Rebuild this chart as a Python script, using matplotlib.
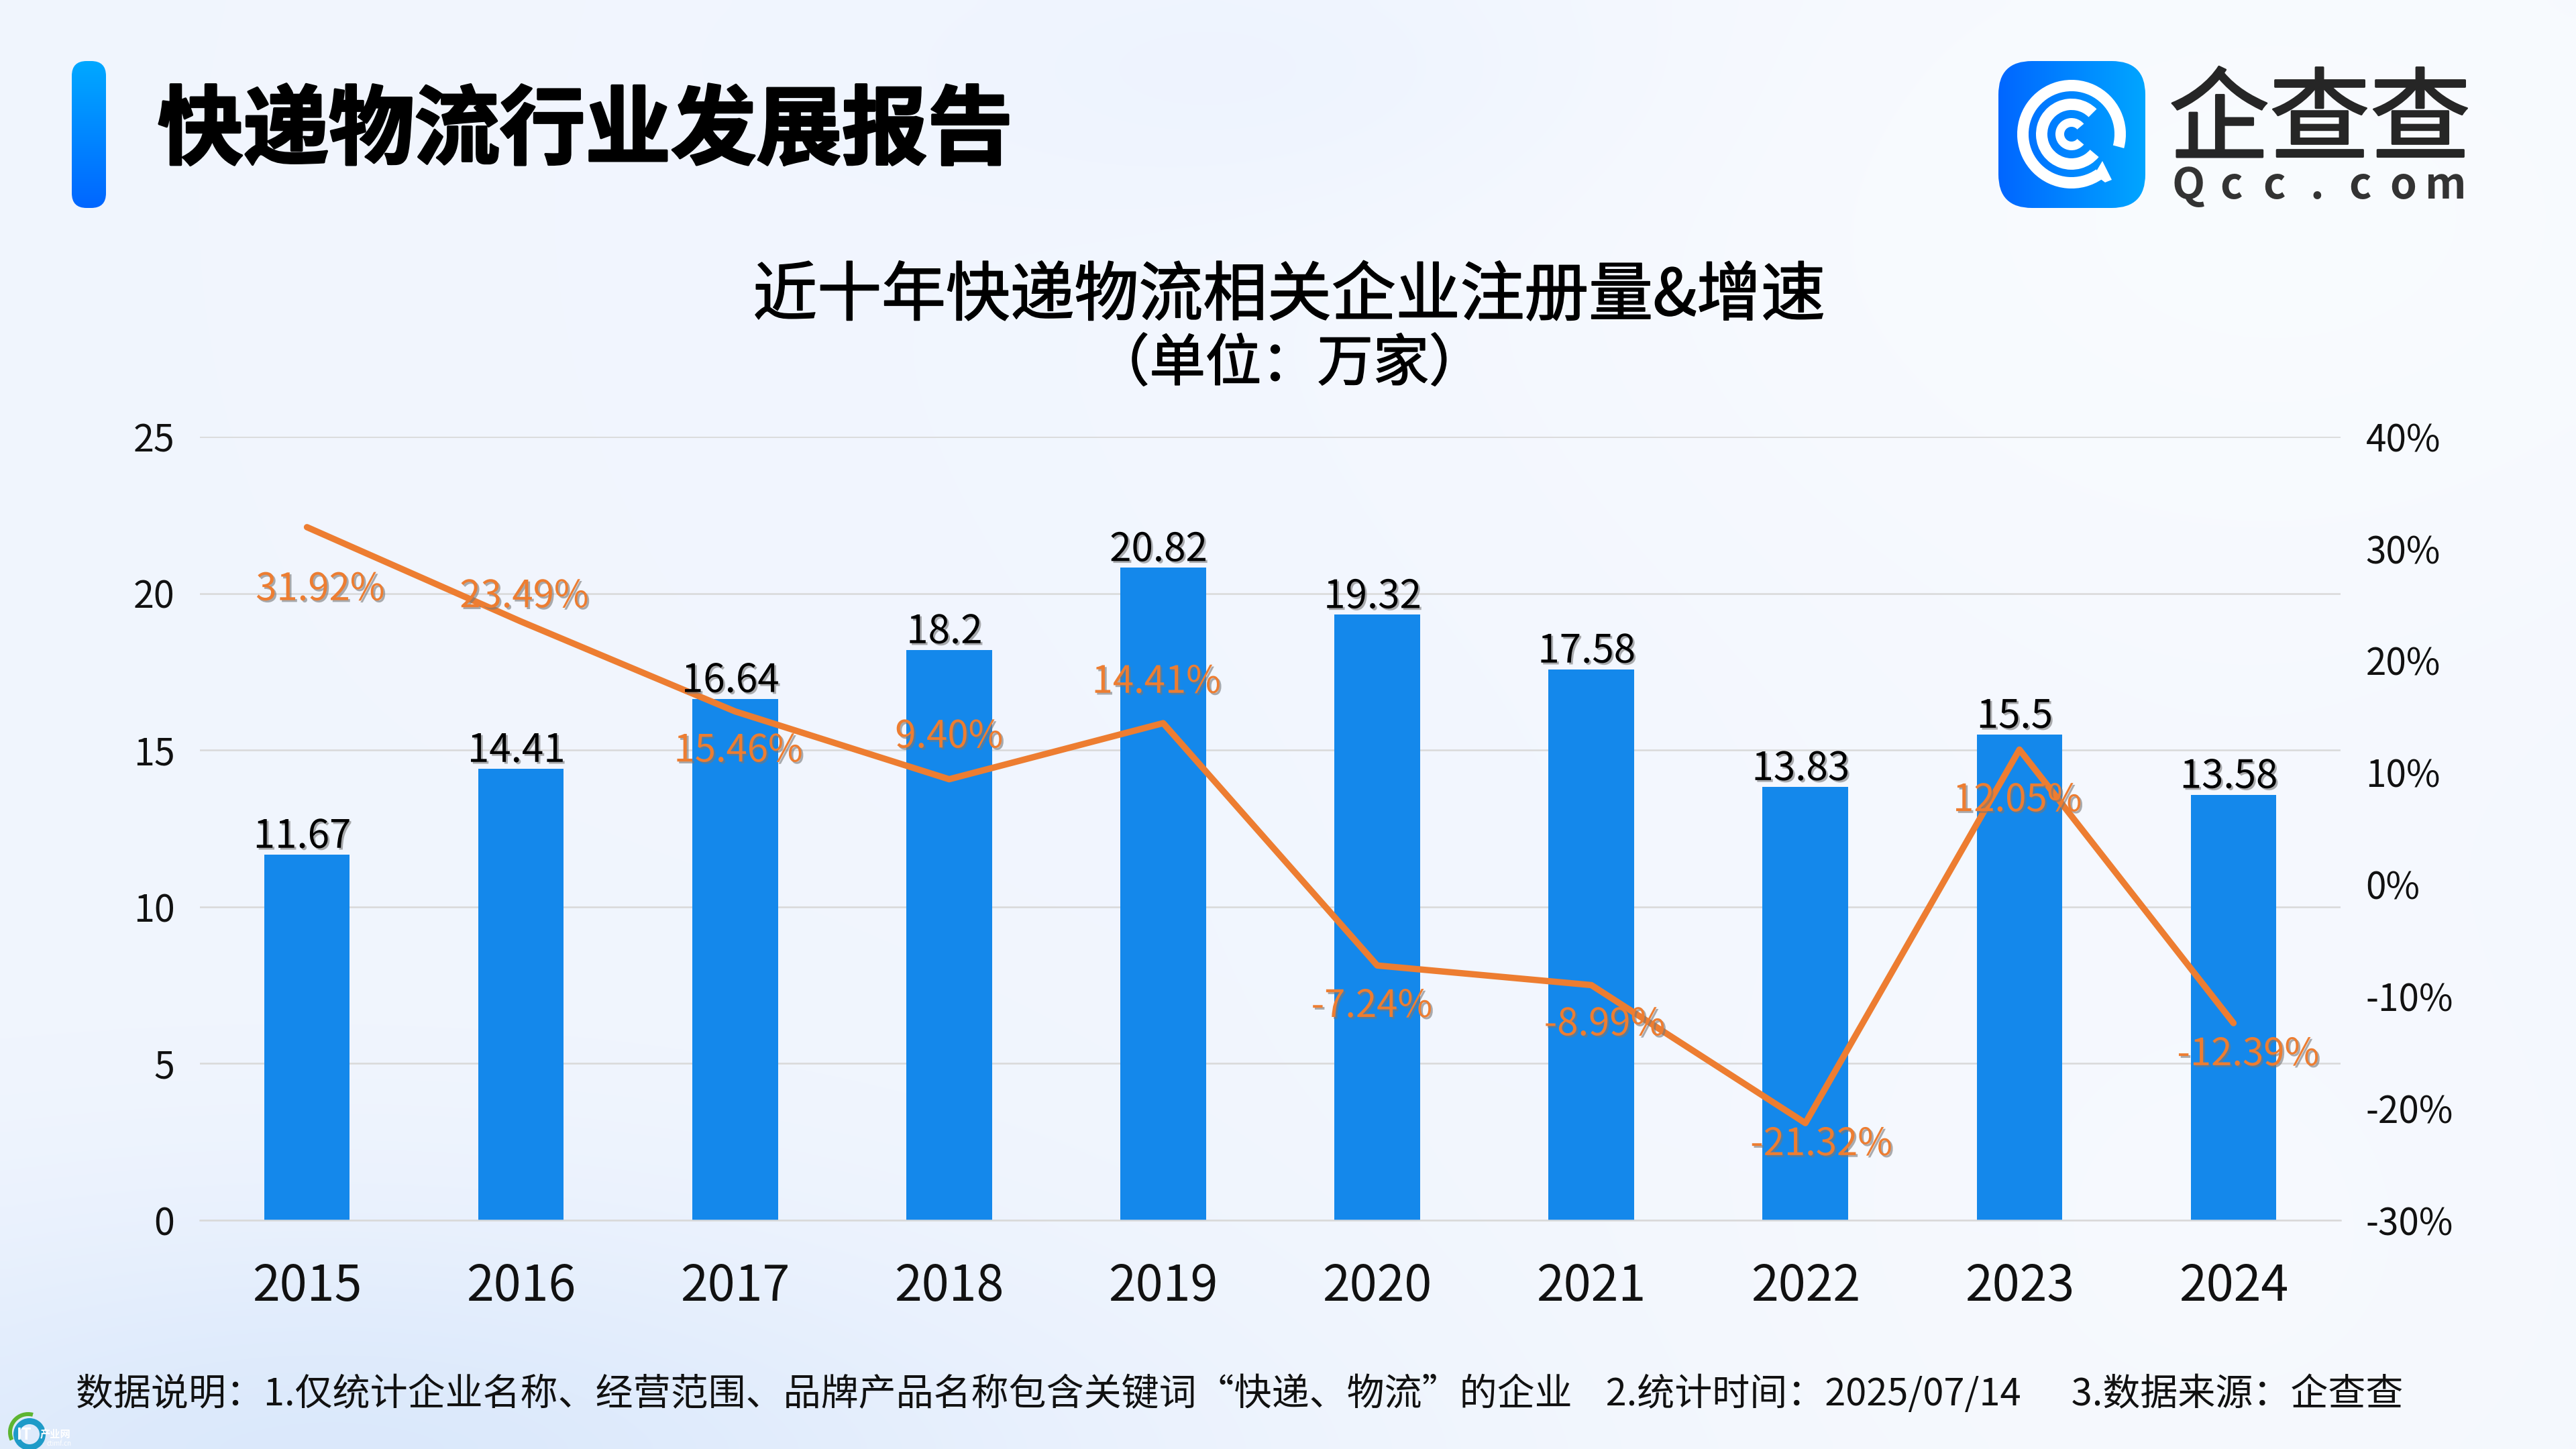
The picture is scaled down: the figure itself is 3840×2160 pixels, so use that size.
import matplotlib
matplotlib.use("Agg")
import matplotlib.pyplot as plt
import matplotlib.patheffects as pe
from matplotlib.patches import FancyBboxPatch, Wedge, Polygon
import numpy as np

plt.rcParams['font.family'] = ['Noto Sans CJK SC', 'DejaVu Sans']

W, H = 3840, 2160

# Data
years = ['2015', '2016', '2017', '2018', '2019', '2020', '2021', '2022', '2023', '2024']
registrations = [11.67, 14.41, 16.64, 18.2, 20.82, 19.32, 17.58, 13.83, 15.5, 13.58]
growth = [31.92, 23.49, 15.46, 9.40, 14.41, -7.24, -8.99, -21.32, 12.05, -12.39]
left_ticks = [0, 5, 10, 15, 20, 25]
right_ticks = [-30, -20, -10, 0, 10, 20, 30, 40]

main_title = '快递物流行业发展报告'
chart_title = '近十年快递物流相关企业注册量&增速'
chart_unit = '（单位：万家）'
footnote = '数据说明：1.仅统计企业名称、经营范围、品牌产品名称包含关键词“快递、物流”的企业    2.统计时间：2025/07/14      3.数据来源：企查查'

# Hand placed label offsets in the reference, pixels
growth_dx = [20, 5, 5, 0, -10, -8, 20, 24, -3, 22]
growth_dy = [-93, 37, -59, 63, 61, -61, -59, -32, -76, -47]

BLUE = '#1488EB'
ORANGE = '#ED7D31'
GRID = '#D9D9D9'

fig = plt.figure(figsize=(W / 100, H / 100), dpi=100)

# Background, soft blobs on a pale blue base
bg = fig.add_axes([0, 0, 1, 1], zorder=0)
bg.set_xlim(0, W)
bg.set_ylim(0, H)
bg.axis('off')

xx, yy = np.meshgrid(np.linspace(0, W, 240), np.linspace(0, H, 135))


def blob(cx, cy, sx, sy):
    return np.exp(-((xx - cx) / sx) ** 2 - ((yy - cy) / sy) ** 2)[..., None]


img = np.ones(xx.shape + (3,)) * np.array([0.945, 0.963, 0.996])
img = img + blob(3400, 300, 1300, 800) * np.array([0.03, 0.022, 0.004])
img = img + blob(3300, 1900, 1000, 800) * np.array([0.02, 0.014, 0.0])
img = img - blob(450, 2200, 1000, 380) * np.array([0.085, 0.05, 0.01])
img = img - blob(1900, 100, 500, 200) * np.array([0.018, 0.012, 0.0])
img = img - blob(1500, 2200, 800, 300) * np.array([0.01, 0.006, 0.0])
bg.imshow(np.clip(img, 0, 1), extent=(0, W, 0, H), aspect='auto', interpolation='bicubic', zorder=0)
bg.set_xlim(0, W)
bg.set_ylim(0, H)

# Title marker
grad = np.linspace(0, 1, 256)[..., None, None] * np.array([[[0.0, -0.26, 0.0]]]) + np.array([[[0.0, 0.66, 1.0]]])
bar_im = bg.imshow(grad, extent=(107, 158, H - 310, H - 91), aspect='auto', zorder=1)
bar_box = FancyBboxPatch((107 + 20, H - 310 + 20), 11, 179, boxstyle='round,pad=20,rounding_size=22',
                         transform=bg.transData, fc='none', ec='none')
bg.add_patch(bar_box)
bar_im.set_clip_path(bar_box)

heavy = [pe.withStroke(linewidth=2.5, foreground='black')]
medium = [pe.withStroke(linewidth=1.2, foreground='black')]
bg.text(235, H - 197, main_title, fontsize=91.8, fontweight='bold', color='black', va='center', ha='left',
        path_effects=heavy, zorder=3)
bg.text(1922, H - 442, chart_title, fontsize=69, color='black', va='center', ha='center',
        path_effects=medium, zorder=3)
bg.text(1922, H - 543, chart_unit, fontsize=60, color='black', va='center', ha='center',
        path_effects=medium, zorder=3)
bg.text(113, H - 2079, footnote, fontsize=40.3, color='#111111', va='center', ha='left', zorder=3)

# Logo
logo_grad = np.linspace(0, 1, 256)[None, ..., None] * np.array([[[0.0, 0.25, 0.0]]]) + np.array([[[0.0, 0.40, 1.0]]])
logo_im = bg.imshow(logo_grad, extent=(2979, 3198, H - 310, H - 91), aspect='auto', zorder=1)
logo_box = FancyBboxPatch((2979 + 50, H - 310 + 50), 119, 119, boxstyle='round,pad=50,rounding_size=50',
                          transform=bg.transData, fc='none', ec='none')
bg.add_patch(logo_box)
logo_im.set_clip_path(logo_box)
cx, cy = 3088, H - 200
bg.add_patch(Wedge((cx, cy), 81, -15, 305, width=17, fc='white', ec='none', zorder=2))
bg.add_patch(Wedge((cx, cy), 53, 45, 320, width=17, fc='white', ec='none', zorder=2))
bg.add_patch(Wedge((cx, cy), 24, 40, 320, width=13, fc='white', ec='none', zorder=2))
bg.add_patch(Polygon([(cx + 34, cy - 60), (cx + 50, cy - 72), (cx + 60, cy - 68), (cx + 46, cy - 40)],
                     fc='white', ec='none', zorder=2))
bg.text(3458, H - 184, '企查查', fontsize=108, color='#262626', va='center', ha='center',
        path_effects=[pe.withStroke(linewidth=2, foreground='#262626')], zorder=3)
for i, ch in enumerate('Qcc.com'):
    bg.text(3262 + i * 64, H - 277, ch, fontsize=46, fontweight='bold', color='#333333', va='center', ha='center', zorder=3)

# Watermark
wx, wy = 42, H - 2135
bg.add_patch(Wedge((wx, wy), 30, 75, 205, width=6, fc='#5DB531', ec='none', zorder=2))
bg.add_patch(Wedge((wx + 2, wy - 3), 24, 0, 360, width=9, fc='#1E9BC8', ec='none', zorder=2))
bg.text(36, wy - 4, 'IT', fontsize=17, fontweight='bold', color='white', va='center', ha='center', zorder=3)
bg.text(82, wy - 3, '产业网', fontsize=11, fontweight='bold', color='white', va='center', ha='center', zorder=3)
bg.text(88, wy - 17, 'ctimf.cn', fontsize=7, color='white', va='center', ha='center', zorder=3)

# Chart
ax = fig.add_axes([298 / W, 1 - 1819 / H, (3489 - 298) / W, (1819 - 651) / H], zorder=1)
ax.patch.set_alpha(0)
x = np.arange(len(years))
ax.bar(x, registrations, width=0.4, color=BLUE, zorder=2)
ax.set_xlim(-0.5, 9.5)
ax.set_ylim(0, 25)
ax.set_yticks(left_ticks)
ax.set_xticks(x)
ax.set_xticklabels(years)
ax.tick_params(axis='x', length=0, pad=44, labelsize=53, labelcolor='#111111')
ax.tick_params(axis='y', length=0, pad=27, labelsize=40, labelcolor='#111111')
ax.yaxis.grid(True, color=GRID, linewidth=1.8)
ax.set_axisbelow(True)
for side in ['top', 'right', 'left']:
    ax.spines[side].set_visible(False)
ax.spines['bottom'].set_color(GRID)
ax.spines['bottom'].set_linewidth(1.8)

ax2 = ax.twinx()
ax2.patch.set_alpha(0)
ax2.plot(x, growth, color=ORANGE, linewidth=6.8, solid_capstyle='round', solid_joinstyle='round', zorder=3)
ax2.set_ylim(-30, 40)
ax2.set_yticks(right_ticks)
ax2.set_yticklabels([f'{t}%' for t in right_ticks])
ax2.tick_params(axis='y', length=0, pad=27, labelsize=39.5, labelcolor='#111111')
for side in ['top', 'right', 'left', 'bottom']:
    ax2.spines[side].set_visible(False)

shadow = [pe.withSimplePatchShadow(offset=(2, -2), shadow_rgbFace='#777777', alpha=0.6)]

for i, val in enumerate(registrations):
    # values sit on ax2 so they stay over the line's axes
    y2 = -30 + val / 25 * 70
    ax2.annotate(str(val), (x[i], y2), xytext=(-7, -4), textcoords='offset pixels', fontsize=42,
                 color='black', ha='center', va='bottom', path_effects=shadow, zorder=4)

for i, val in enumerate(growth):
    ax2.annotate(f'{val:.2f}%', (x[i], val), xytext=(growth_dx[i], growth_dy[i]), textcoords='offset pixels',
                 fontsize=40.5, color=ORANGE, ha='center', va='center', path_effects=shadow, zorder=4)

fig.savefig('out.png', dpi=100)
